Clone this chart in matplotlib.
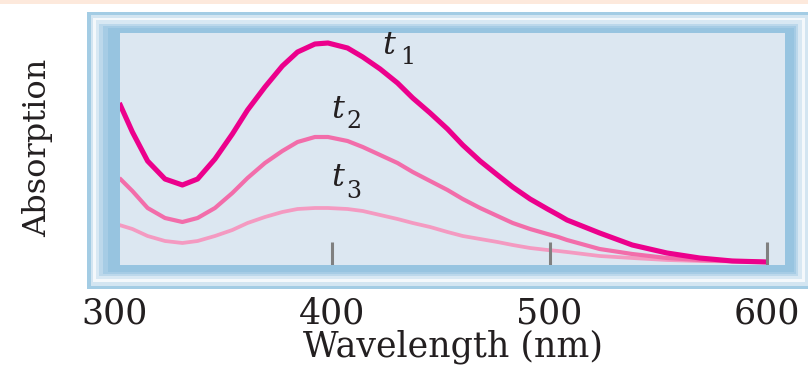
import matplotlib
matplotlib.use("Agg")
import matplotlib.pyplot as plt
from matplotlib.patches import Rectangle
from matplotlib import transforms

# ---------------- data ----------------
wavelength = [302, 308, 315, 323, 331, 338, 346, 354, 361, 369, 377, 384, 392, 398,
              407, 414, 422, 430, 437, 445, 453, 460, 468, 476, 483, 491, 499, 504,
              508, 523, 538, 554, 569, 584, 600]
absorb_t1 = [160, 131, 102, 84, 78, 84, 104, 129, 153, 176, 197, 211, 219, 220,
             215, 206, 194, 180, 165, 150, 134, 118, 102, 88, 76, 64, 54, 48,
             43, 30, 18, 10, 5, 2, 1]
absorb_t2 = [85, 72, 55, 45, 41, 45, 55, 70, 85, 100, 112, 121, 126, 126,
             122, 116, 108, 100, 91, 82, 73, 64, 55, 47, 40, 34, 29, 26,
             23, 14, 9, 5, 3, 2, 1]
absorb_t3 = [38, 34, 27, 22, 20, 22, 27, 33, 40, 46, 51, 54, 55, 55,
             54, 52, 48, 44, 40, 36, 31, 27, 24, 21, 18, 15, 13, 12,
             11, 7, 5, 3, 2, 1.5, 1]
tick_values = [300, 400, 500, 600]
marked_ticks = [400, 500, 600]
series_labels = ["1", "2", "3"]
x_label = "Wavelength (nm)"
y_label = "Absorption"

# ---------------- figure ----------------
W, H = 808, 367
fig = plt.figure(figsize=(W / 100, H / 100), dpi=100)
fig.patch.set_facecolor("white")


def px_rect(x0, y0, x1, y1, color, z):
    fig.patches.append(Rectangle((x0 / W, 1 - y1 / H), (x1 - x0) / W, (y1 - y0) / H,
                                 transform=fig.transFigure, facecolor=color,
                                 edgecolor="none", zorder=z))


# peach strip at top
px_rect(0, 0, W, 3.5, "#FDE9DC", 0)

# layered frame (outer -> inner)
layers = [
    ((87, 12, 812, 289), "#A3CCE4"),
    ((90.7, 15, 808, 285.5), "#D3E5F1"),
    ((93.3, 17.7, 805, 282), "#F4F8FB"),
    ((96, 20.3, 802, 279), "#D8E8F3"),
    ((99.3, 23.5, 798.3, 276), "#BCD8EB"),
    ((103.3, 26, 796, 273.5), "#A6CCE5"),
    ((108, 28, 794, 272), "#97C4E0"),
]
for i, (r, c) in enumerate(layers):
    px_rect(*r, c, 0.1 + i * 0.01)

# inner panel axes
ax = fig.add_axes([120 / W, 1 - 265 / H, 665 / W, 232 / H])
ax.set_facecolor("#DCE7F1")
ax.set_zorder(1)
ax.set_xlim(302.3, 608.3)
ax.set_ylim(-2, 230)
for s in ax.spines.values():
    s.set_visible(False)
ax.set_xticks([])
ax.set_yticks([])

common = dict(solid_capstyle="butt", solid_joinstyle="round")
ax.plot(wavelength, absorb_t3, color="#F49AC1", lw=2.7, zorder=2, **common)
ax.plot(wavelength, absorb_t2, color="#F26DAA", lw=3.0, zorder=3, **common)
ax.plot(wavelength, absorb_t1, color="#EC008C", lw=3.7, zorder=4, **common)

ax.vlines(marked_ticks, -2, 21, color="#808080", lw=2.2, zorder=5)

# tick labels
blend = transforms.blended_transform_factory(ax.transData, fig.transFigure)
for v in tick_values:
    ax.text(v, 1 - 323 / H, str(v), transform=blend, ha="center", va="baseline",
            fontsize=25, family="DejaVu Serif", color="#231F20", clip_on=False)

fig.text(453 / W, 1 - 357 / H, x_label, ha="center", va="baseline",
         fontsize=25, family="DejaVu Serif", color="#231F20")
fig.text(38 / W, 1 - 148 / H, y_label, ha="center", va="center", rotation=90,
         fontsize=23, family="DejaVu Serif", color="#231F20")

# curve labels t1, t2, t3
t_pos = [(426.0, 218), (402.5, 153), (402.5, 85)]
sub_pos = [(434.5, 206), (410.0, 141), (410.0, 71)]
for (tx, ty), (sx, sy), lab in zip(t_pos, sub_pos, series_labels):
    ax.text(tx, ty, "t", ha="center", va="center", fontsize=23, style="italic",
            family="DejaVu Serif", color="#231F20", zorder=6)
    ax.text(sx, sy, lab, ha="center", va="center", fontsize=17,
            family="DejaVu Serif", color="#231F20", zorder=6)

fig.savefig("out.png", dpi=100)
